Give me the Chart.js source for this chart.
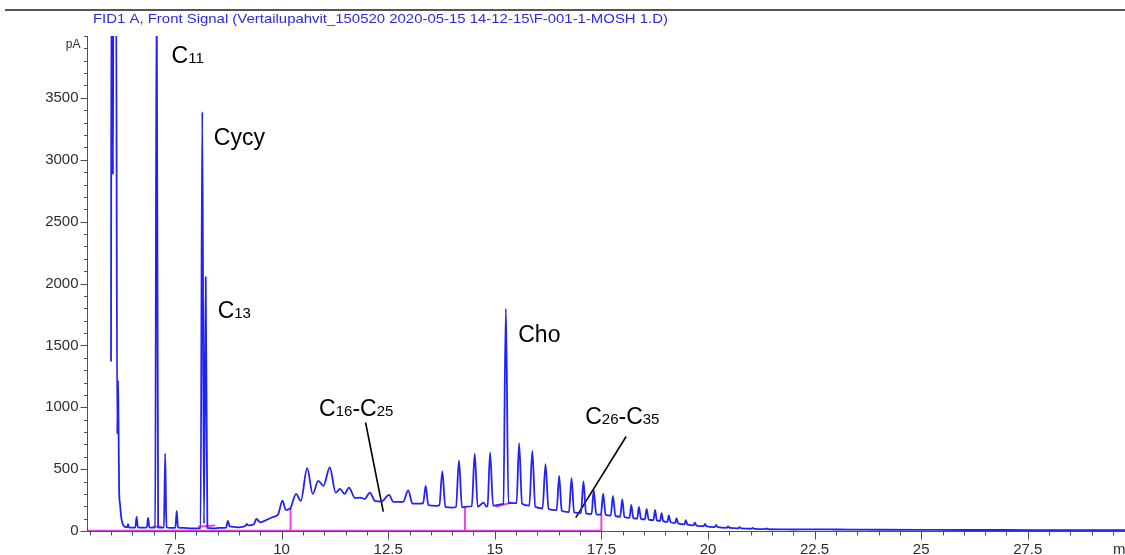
<!DOCTYPE html>
<html><head><meta charset="utf-8">
<script src="https://cdn.jsdelivr.net/npm/chart.js@4.4.0/dist/chart.umd.min.js"></script>
<style>html,body{margin:0;padding:0;background:#fff;overflow:hidden}#wrap{position:relative;width:1125px;height:555px}</style>
</head><body><div id="wrap"><canvas id="c" width="1125" height="555"></canvas></div>
<script>
// ---- chromatogram (retention time in min, signal in pA) ----
const times = [
6.00,6.01,6.035,6.045,6.055,6.12,6.145,6.165,6.175,6.19,6.21,6.24,6.27,6.32,
6.38,6.40,6.42,6.50,6.57,6.60,6.63,6.75,6.84,6.87,6.90,6.98,7.035,7.07,7.105,7.16,
7.24,7.27,7.30,7.40,7.51,7.54,7.57,7.70,7.90,8.10,8.14,8.18,8.22,8.26,8.40,8.55,
8.70,8.74,8.78,8.82,9.00,9.15,9.18,9.22,9.35,9.41,9.50,9.65,9.80,9.92,10.02,10.10,
10.16,10.21,10.34,10.45,10.60,10.73,10.86,10.98,11.13,11.27,11.37,11.48,11.58,11.72,
11.84,11.95,12.07,12.19,12.34,12.52,12.62,12.85,12.97,13.07,13.24,13.32,13.38,13.44,
13.63,13.70,13.77,13.84,14.02,14.09,14.16,14.23,14.37,14.46,14.53,14.60,14.74,14.80,
14.83,14.89,14.96,15.14,15.20,15.26,15.32,15.44,15.51,15.57,15.64,15.81,15.88,15.95,
16.12,16.19,16.26,16.45,16.51,16.57,16.74,16.80,16.86,17.02,17.08,17.14,17.27,17.32,
17.38,17.49,17.54,17.60,17.72,17.77,17.83,17.94,17.99,18.04,18.16,18.20,18.25,18.34,
18.38,18.43,18.52,18.56,18.61,18.72,18.76,18.80,18.88,18.91,18.95,19.05,19.08,19.12,
19.23,19.26,19.30,19.45,19.48,19.52,19.66,19.69,19.73,19.90,19.93,19.97,20.16,20.19,
20.23,20.44,20.47,20.51,20.71,20.74,20.78,21.02,21.05,21.09,21.34,21.37,21.41,21.70,
22.00,22.50,23.00,24.00,25.00,26.00,27.00,28.00,29.00,29.78];
const signal = [
1370,4500,4500,2880,4500,4500,785,1215,900,330,220,110,60,35,
30,55,30,28,30,113,30,28,30,105,30,28,30,4500,30,28,
30,626,30,25,28,162,30,25,22,22,3388,60,2052,25,22,25,
28,81,40,35,30,40,57,45,55,97,70,90,113,135,245,170,
175,185,300,243,508,300,405,365,513,310,340,300,351,267,
270,259,310,243,237,292,235,235,329,221,221,225,365,210,
203,208,482,195,189,195,570,192,197,200,626,195,230,198,
200,636,205,215,220,1796,225,225,225,710,220,205,648,195,
182,540,178,168,446,163,152,428,150,145,400,143,137,330,
135,132,302,130,124,284,122,115,255,113,106,210,104,100,
194,98,94,178,92,88,170,86,82,145,80,74,127,72,
64,104,62,54,87,52,46,67,44,39,57,37,32,49,
31,26,38,25,22,32,21,18,26,17,15,22,14,13,
12,13,12,10,9,8,8,7,7,7];

// ---- axis ticks ----
const xMajorTicks = [7.5,10,12.5,15,17.5,20,22.5,25,27.5];
const xMinorTicks = [5.5,6,6.5,7,8,8.5,9,9.5,10.5,11,11.5,12,13,13.5,14,14.5,15.5,16,16.5,17,18,18.5,19,19.5,20.5,21,21.5,22,23,23.5,24,24.5,25.5,26,26.5,27,28,28.5,29,29.5];
const yMajorTicks = [0,500,1000,1500,2000,2500,3000,3500];
const yMinorTicks = [100,200,300,400,600,700,800,900,1100,1200,1300,1400,1600,1700,1800,1900,2100,2200,2300,2400,2600,2700,2800,2900,3100,3200,3300,3400,3600,3700,3800,3900,4000];

// ---- integration events (min, pA) ----
const baselineStart = 5.46, baselineEnd = 17.50;
const dropTimes = [10.21, 14.30, 17.50];
const dropTops = [185, 200, 137];
const peakBaseStart = [6.98, 8.04, 15.02];
const peakBaseEnd = [7.19, 8.44, 15.39];
const peakBaseStartY = [35, 35, 195];
const peakBaseEndY = [35, 45, 230];

// ---- annotations ----
const labelTexts = ['C_11','Cycy','C_13','Cho','C_16-C_25','C_26-C_35'];
const labelTimes = [7.42, 8.41, 8.50, 15.55, 10.88, 17.12];
const labelSignals = [3781, 3119, 1723, 1526, 932, 864];
const leaderFromT = [11.97, 18.08];
const leaderFromY = [877, 764];
const leaderToT = [12.385, 16.90];
const leaderToY = [156, 108];

const titleText = 'FID1 A, Front Signal (Vertailupahvit_150520 2020-05-15 14-12-15\\F-001-1-MOSH 1.D)';
const FONT = '"Liberation Sans", Arial, Helvetica, sans-serif';

const datasets = [];
datasets.push({data: times.map((t,i)=>({x:t,y:signal[i]})), borderColor:'#2222f2', borderWidth:1.8,
  pointRadius:0, showLine:true, cubicInterpolationMode:'monotone', order:0});
datasets.push({data:[{x:baselineStart,y:0},{x:baselineEnd,y:0}], borderColor:'#e040e0', borderWidth:2.5, pointRadius:0, showLine:true, order:2});
dropTimes.forEach((t,i)=>datasets.push({data:[{x:t,y:0},{x:t,y:dropTops[i]}], borderColor:'#f040e0', borderWidth:2, pointRadius:0, showLine:true, order:2}));
peakBaseStart.forEach((t,i)=>datasets.push({data:[{x:t,y:peakBaseStartY[i]},{x:peakBaseEnd[i],y:peakBaseEndY[i]}], borderColor:'#f040e0', borderWidth:2, pointRadius:0, showLine:true, order:1}));
leaderFromT.forEach((t,i)=>datasets.push({data:[{x:t,y:leaderFromY[i]},{x:leaderToT[i],y:leaderToY[i]}], borderColor:'#000', borderWidth:1.6, pointRadius:0, showLine:true, order:3}));

function drawLabel(ctx, text, x, y){
  const parts = text.split(/(_\d+)/).filter(s=>s.length);
  let cx = x;
  ctx.fillStyle = '#000'; ctx.textBaseline='alphabetic'; ctx.textAlign='left';
  parts.forEach(p=>{
    if (p[0]==='_'){ ctx.font = '15px '+FONT; const s=p.slice(1); ctx.fillText(s,cx,y); cx += ctx.measureText(s).width; }
    else { ctx.font = '23px '+FONT; ctx.fillText(p,cx,y); cx += ctx.measureText(p).width; }
  });
}

const axesPlugin = {
  id:'axes',
  beforeDatasetsDraw(chart){
    const {ctx, chartArea:a, scales:{x,y}} = chart;
    ctx.save();
    ctx.strokeStyle = '#505050'; ctx.lineWidth = 1;
    const ax = Math.round(a.left)-0.5;
    const ay = Math.round(y.getPixelForValue(0))+0.5;
    ctx.beginPath(); ctx.moveTo(ax, Math.round(y.getPixelForValue(4000))); ctx.lineTo(ax, ay); ctx.stroke();
    ctx.beginPath(); ctx.moveTo(ax, ay); ctx.lineTo(a.right, ay); ctx.stroke();
    yMajorTicks.forEach(v=>{ const py=Math.round(y.getPixelForValue(v))+0.5; ctx.beginPath(); ctx.moveTo(ax-7,py); ctx.lineTo(ax,py); ctx.stroke(); });
    yMinorTicks.forEach(v=>{ const py=Math.round(y.getPixelForValue(v))+0.5; ctx.beginPath(); ctx.moveTo(ax-3.5,py); ctx.lineTo(ax,py); ctx.stroke(); });
    xMajorTicks.forEach(v=>{ const px=Math.round(x.getPixelForValue(v))+0.5; ctx.beginPath(); ctx.moveTo(px,ay); ctx.lineTo(px,ay+8); ctx.stroke(); });
    xMinorTicks.forEach(v=>{ const px=Math.round(x.getPixelForValue(v))+0.5; ctx.beginPath(); ctx.moveTo(px,ay); ctx.lineTo(px,ay+4); ctx.stroke(); });
    // tick labels
    ctx.fillStyle = '#2e2e2e';
    ctx.font = '15px '+FONT;
    ctx.textAlign='right'; ctx.textBaseline='middle';
    yMajorTicks.forEach(v=>ctx.fillText(String(v), ax-9, y.getPixelForValue(v)));
    ctx.font = '12px '+FONT;
    ctx.fillText('pA', ax-7, y.getPixelForValue(3930));
    ctx.font = '15px '+FONT;
    ctx.textAlign='center'; ctx.textBaseline='alphabetic';
    xMajorTicks.forEach(v=>ctx.fillText(String(v), x.getPixelForValue(v), ay+22));
    ctx.textAlign='left';
    ctx.fillText('min', 1113, ay+22);
    ctx.restore();
  },
  afterDraw(chart){
    const {ctx, scales:{x,y}} = chart;
    ctx.save();
    labelTexts.forEach((t,i)=>drawLabel(ctx, t, x.getPixelForValue(labelTimes[i]), y.getPixelForValue(labelSignals[i])));
    // header rule and title
    ctx.strokeStyle='#555'; ctx.lineWidth=2;
    ctx.beginPath(); ctx.moveTo(5,10); ctx.lineTo(1125,10); ctx.stroke();
    ctx.font = '13px '+FONT;
    const w = ctx.measureText(titleText).width;
    ctx.translate(93, 23); ctx.scale(575/w, 1);
    ctx.fillStyle = '#2a2ae0'; ctx.textAlign='left'; ctx.textBaseline='alphabetic';
    ctx.fillText(titleText, 0, 0);
    ctx.restore();
  }
};

new Chart(document.getElementById('c'), {
  type:'scatter',
  data:{datasets},
  options:{
    responsive:false, animation:false, devicePixelRatio:1,
    layout:{padding:{top:36,left:0,right:0,bottom:0}},
    plugins:{legend:{display:false}, tooltip:{enabled:false}, title:{display:false}},
    scales:{
      x:{type:'linear', min:5.46, max:29.78, ticks:{display:false}, grid:{display:false}, border:{display:false}, afterFit(s){s.height=24;}},
      y:{type:'linear', min:0, max:4000, ticks:{display:false}, grid:{display:false}, border:{display:false}, afterFit(s){s.width=88;}}
    }
  },
  plugins:[axesPlugin]
});
</script></body></html>
